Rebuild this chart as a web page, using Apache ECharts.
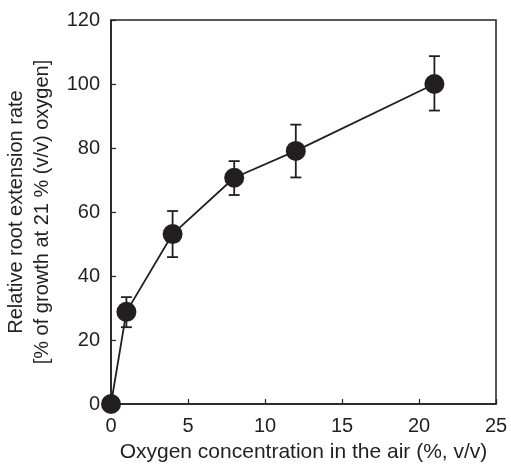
<!DOCTYPE html>
<html>
<head>
<meta charset="utf-8">
<script src="https://cdn.jsdelivr.net/npm/echarts@6/dist/echarts.min.js"></script>
<style>html,body{margin:0;padding:0;background:#fff;}#c{width:511px;height:465px;}</style>
</head>
<body>
<div id="c"></div>
<script>
const oxygen = [0, 1, 4, 8, 12, 21];
const growth = [0, 28.8, 53.1, 70.7, 79.1, 100];
const errLow = [0, 24.0, 45.9, 65.3, 70.8, 91.7];
const errHigh = [0, 33.4, 60.3, 75.9, 87.3, 108.7];
const xTicks = [0, 5, 10, 15, 20, 25];
const yTicks = [0, 20, 40, 60, 80, 100, 120];

const ink = '#231f20';
const font = 'Liberation Sans, Arial, Helvetica, sans-serif';

const chart = echarts.init(document.getElementById('c'));
const errData = oxygen.map((x, i) => [x, errLow[i], errHigh[i]]).filter((d, i) => errHigh[i] > errLow[i]);

chart.setOption({
  animation: false,
  grid: { left: 111, right: 15, top: 20, bottom: 61, containLabel: false, outerBoundsMode: 'none', show: true, borderColor: ink, borderWidth: 1.5, backgroundColor: 'transparent' },
  xAxis: {
    type: 'value', min: xTicks[0], max: xTicks[xTicks.length - 1], interval: 5,
    name: 'Oxygen concentration in the air (%, v/v)', nameLocation: 'middle', nameGap: 38,
    nameTextStyle: { color: ink, fontSize: 21, fontFamily: font },
    axisLine: { show: true, lineStyle: { color: ink, width: 1.5 } },
    axisTick: { show: true, inside: true, length: 5, lineStyle: { color: ink, width: 1.2 } },
    axisLabel: { color: ink, fontSize: 20, fontFamily: font, margin: 12 },
    splitLine: { show: false }
  },
  yAxis: {
    type: 'value', min: yTicks[0], max: yTicks[yTicks.length - 1], interval: 20,
    name: 'Relative root extension rate\n[% of growth at 21 % (v/v) oxygen]', nameLocation: 'middle', nameGap: 52,
    nameTextStyle: { color: ink, fontSize: 20, fontFamily: font, lineHeight: 26 },
    axisLine: { show: true, lineStyle: { color: ink, width: 1.5 } },
    axisTick: { show: true, inside: true, length: 5, lineStyle: { color: ink, width: 1.2 } },
    axisLabel: { color: ink, fontSize: 20, fontFamily: font, margin: 11 },
    splitLine: { show: false }
  },
  series: [
    {
      type: 'custom',
      data: errData,
      clip: false,
      z: 2,
      renderItem: function (params, api) {
        const x = api.value(0);
        const lo = api.coord([x, api.value(1)]);
        const hi = api.coord([x, api.value(2)]);
        const hw = 5.5;
        const style = { stroke: ink, lineWidth: 1.8, fill: null };
        return {
          type: 'group',
          children: [
            { type: 'line', shape: { x1: lo[0], y1: lo[1], x2: hi[0], y2: hi[1] }, style: style },
            { type: 'line', shape: { x1: lo[0] - hw, y1: lo[1], x2: lo[0] + hw, y2: lo[1] }, style: style },
            { type: 'line', shape: { x1: hi[0] - hw, y1: hi[1], x2: hi[0] + hw, y2: hi[1] }, style: style }
          ]
        };
      }
    },
    {
      type: 'line',
      data: oxygen.map((x, i) => [x, growth[i]]),
      clip: false,
      z: 3,
      symbol: 'circle',
      symbolSize: 20,
      showAllSymbol: true,
      lineStyle: { color: ink, width: 1.8 },
      itemStyle: { color: ink, borderWidth: 0 }
    }
  ]
});
</script>
</body>
</html>
